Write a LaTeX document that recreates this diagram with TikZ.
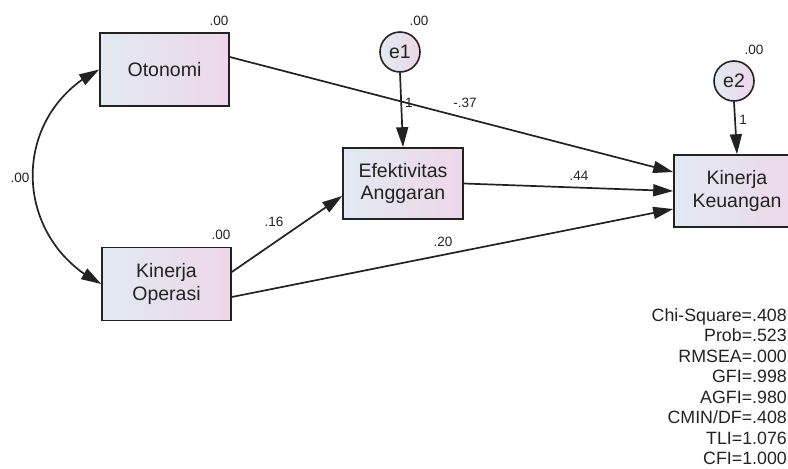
\documentclass[tikz,border=0pt]{standalone}
\usepackage{fontspec}
\setmainfont{Liberation Sans}
\usetikzlibrary{arrows.meta,bending}
\definecolor{boxl}{RGB}{226,233,242}
\definecolor{boxr}{RGB}{237,215,232}
\definecolor{ink}{RGB}{34,34,34}

\begin{document}
\begin{tikzpicture}[x=1pt,y=-1pt]
\tikzset{obs/.style = {shape=rectangle,draw=ink,line width=1.6pt,left color=boxl,right color=boxr,minimum width=129pt,minimum height=73pt,inner sep=0pt,align=center,text=ink,font=\fontsize{19.5}{22.5}\selectfont}}
\tikzset{err/.style = {shape=circle,draw=ink,line width=1.6pt,left color=boxl,right color=boxr,minimum size=40pt,inner sep=0pt,text=ink,font=\fontsize{19.5}{22.5}\selectfont}}
\tikzset{edge/.style = {-{Triangle[length=20pt,width=12pt]},line width=1.7pt,draw=ink}}
\tikzset{cov/.style = {{Triangle[length=20pt,width=12pt]}-{Triangle[length=20pt,width=12pt]},line width=1.7pt,draw=ink}}
\tikzset{est/.style = {inner sep=0pt,text=ink,font=\fontsize{13.5}{15}\selectfont}}
\tikzset{fitstat/.style = {inner sep=0pt,align=right,text=ink,font=\fontsize{17.8}{20.5}\selectfont}}
\clip (0,0) rectangle (788,469);
% vertices
\node[obs] (oto) at (164.5,69.5) {Otonomi};
\node[obs] (ko) at (166.5,284) {Kinerja\\Operasi};
\node[obs, minimum width=120pt, minimum height=71pt] (ea) at (403,183.5) {Efektivitas\\Anggaran};
\node[obs, minimum width=126pt, minimum height=72pt] (kk) at (737,191) {Kinerja\\Keuangan};
\node[err] (e1) at (400,52) {e1};
\node[err] (e2) at (734,81) {e2};

% edges
\draw[cov] (oto.west) .. controls +(-90,45) and +(-90,-45) .. (ko.west);
\draw[edge] ([yshift=12.5pt]oto.east) -- ([yshift=19pt]kk.west);
\draw[edge] (ea.east) -- (kk.west);
\draw[edge] ([yshift=12pt]ko.east) -- ([yshift=-12.5pt]ea.west);
\draw[edge] ([yshift=-13pt]ko.east) -- ([yshift=-18pt]kk.west);
\draw[edge] (e1.south) -- (ea.north);
\draw[edge] (e2.south) -- (kk.north);

% estimates
\node[est] (voto) at (219,21) {.00};
\node[est] (vko) at (221,235) {.00};
\node[est] (ve1) at (419,21) {.00};
\node[est] (ve2) at (754,50) {.00};
\node[est] (cv) at (20,178) {.00};
\node[est] (w1) at (409,103) {1};
\node[est] (w2) at (743,120) {1};
\node[est] (b37) at (465,103) {-.37};
\node[est] (b44) at (579,176) {.44};
\node[est] (b16) at (274,222) {.16};
\node[est] (b20) at (443,242) {.20};

% fit
\node[fitstat, anchor=north east] (fit) at (787,308) {Chi-Square=.408\\Prob=.523\\RMSEA=.000\\GFI=.998\\AGFI=.980\\CMIN/DF=.408\\TLI=1.076\\CFI=1.000};

\end{tikzpicture}
\end{document}
